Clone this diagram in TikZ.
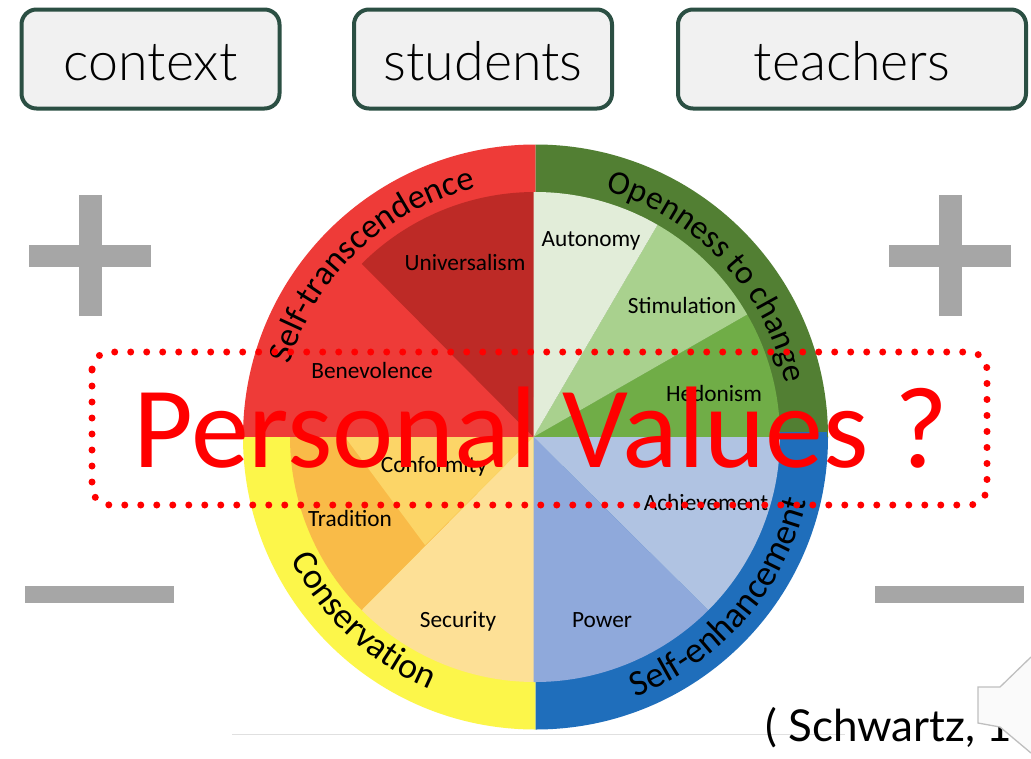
\documentclass[tikz,border=0pt]{standalone}
\usepackage{fontspec}
\setmainfont{Carlito}
\newfontfamily\citefont{Lato}
\newfontfamily\lightfont[UprightFont={* Light}]{Lato}
\usetikzlibrary{decorations.text,calc}
\definecolor{boxline}{HTML}{2B4F43}
\definecolor{boxfill}{HTML}{F1F1F1}
\definecolor{signgray}{HTML}{A6A6A6}
\definecolor{redout}{HTML}{EE3B38}
\definecolor{redin}{HTML}{BD2A26}
\definecolor{greenout}{HTML}{527F33}
\definecolor{autonomyc}{HTML}{E2EDD9}
\definecolor{stimc}{HTML}{A9D18E}
\definecolor{hedc}{HTML}{70AD47}
\definecolor{blueout}{HTML}{1F6EBB}
\definecolor{achc}{HTML}{B0C3E2}
\definecolor{powc}{HTML}{8FA9DB}
\definecolor{yelout}{HTML}{FCF64A}
\definecolor{secc}{HTML}{FDE096}
\definecolor{tradc}{HTML}{F9BB48}
\definecolor{confc}{HTML}{FCD567}
\tikzset{
  topbox/.style={draw=boxline,line width=4pt,fill=boxfill,rounded corners=15pt,minimum height=99pt,inner sep=0pt},
  toplabel/.style={anchor=base,inner sep=0pt,font=\lightfont\fontsize{53.7}{58}\selectfont,text=black},
  sign/.style={fill=signgray,draw=none,inner sep=0pt},
  valuelabel/.style={anchor=base,font=\fontsize{23.3}{26}\selectfont,text=black,inner sep=0pt},
  ringtext/.style n args={2}{decorate,decoration={text along path,text align=center,text={|\fontsize{#1}{39}\selectfont|#2}}},
}
% pixel coordinates with y measured downwards
\newcommand{\outersector}[3]{\fill[#3] (535.5,-437) -- ++(#1:292.5) arc[start angle=#1,end angle=#2,radius=292.5] -- cycle;}
\newcommand{\innersector}[3]{\fill[#3] (533.5,-437) -- ($(535,-437)+(#1:245)$) arc[start angle=#1,end angle=#2,radius=245] -- cycle;}
\begin{document}
\begin{tikzpicture}[x=1pt,y=1pt]
\useasboundingbox (0,0) rectangle (1031,-758);
\fill[white] (0,0) rectangle (1031,-758);
% top boxes
\node[topbox,minimum width=258pt] (contextbox) at (150.5,-59) {};
\node[topbox,minimum width=258pt] (studentsbox) at (483,-59) {};
\node[topbox,minimum width=348pt] (teachersbox) at (852,-59) {};
\node[toplabel] (context) at (150.5,-80) {context};
\node[toplabel] (students) at (483,-80) {students};
\node[toplabel] (teachers) at (852,-80) {teachers};
% plus and minus signs
\node[sign,minimum width=122pt,minimum height=22pt] (plusLh) at (90,-256) {};
\node[sign,minimum width=23pt,minimum height=121pt] (plusLv) at (90.5,-255.5) {};
\node[sign,minimum width=122pt,minimum height=22pt] (plusRh) at (950,-256) {};
\node[sign,minimum width=23pt,minimum height=121pt] (plusRv) at (950.5,-255.5) {};
\node[sign,minimum width=149pt,minimum height=17pt] (minusL) at (99.5,-594.5) {};
\node[sign,minimum width=149pt,minimum height=17pt] (minusR) at (949.5,-594.5) {};
% baseline rule
\draw[color=black!12,line width=0.8pt] (232,-734.5) -- (845,-734.5);
% outer ring
\outersector{90}{180}{redout}
\outersector{0}{90}{greenout}
\outersector{180}{270}{yelout}
\outersector{270}{360}{blueout}
\fill[blueout] (780,-432) rectangle (827,-437);
% inner sectors
\innersector{90}{135}{redin}
\innersector{180}{225}{tradc}
\fill[confc] (533.5,-437) -- (345,-437) -- (425,-545) -- cycle;
\innersector{225}{270}{secc}
\innersector{30}{0}{hedc}
\innersector{60}{30}{stimc}
\fill[autonomyc] (533.5,-437) -- (533.5,-192) -- (535,-192) arc[start angle=90,end angle=60,radius=245] -- cycle;
\innersector{360}{315}{achc}
\fill[powc] (533.5,-437) -- ($(535,-437)+(315:245)$) arc[start angle=315,end angle=270,radius=245] -- (533.5,-682) -- cycle;
% value labels
\node[valuelabel] (universalism) at (465,-270) {Universalism};
\node[valuelabel] (benevolence) at (372,-378.5) {Benevolence};
\node[valuelabel] (autonomy) at (591,-246) {Autonomy};
\node[valuelabel] (stimulation) at (682,-313) {Stimulation};
\node[valuelabel] (hedonism) at (714,-401) {Hedonism};
\node[valuelabel] (conformity) at (434,-472) {Conformity};
\node[valuelabel] (tradition) at (350,-526) {Tradition};
\node[valuelabel] (security) at (458,-627) {Security};
\node[valuelabel] (power) at (602,-627) {Power};
\node[valuelabel] (achievement) at (706,-510.5) {Achievement};
% ring texts
\path[ringtext={34.5}{Self-transcendence}] (535,-437) ++(166.5:256) arc[start angle=166.5,end angle=100.5,radius=256];
\path[ringtext={33.5}{Openness to change}] (535,-437) ++(77:256) arc[start angle=77,end angle=9,radius=256];
\path[ringtext={36}{Conservation}] (535,-437) ++(198:273) arc[start angle=198,end angle=256,radius=273];
\path[ringtext={36.5}{Self-enhancement}] (535,-437) ++(-73:279) arc[start angle=-73,end angle=-9,radius=279];
% citation
\node[anchor=base west,inner sep=0pt,font=\citefont\fontsize{44}{48}\selectfont,text=black] (citation) at (765,-741) {( Schwartz, 1};
% speaker icon
\filldraw[draw=black!25,fill=white!98!black,line width=1.3pt] (1031,-657) -- (1000,-687) -- (978,-687) -- (978,-723) -- (1000,-727) -- (1031,-753);
% personal values
\node[anchor=base,font=\fontsize{116}{124}\selectfont,text=red,inner sep=0pt] (personal) at (541,-467) {Personal Values ?};
\draw[red,line width=7pt,line cap=round,dash pattern=on 0pt off 16pt,rounded corners=18pt] (92,-352) rectangle (987,-505);
\end{tikzpicture}
\end{document}
